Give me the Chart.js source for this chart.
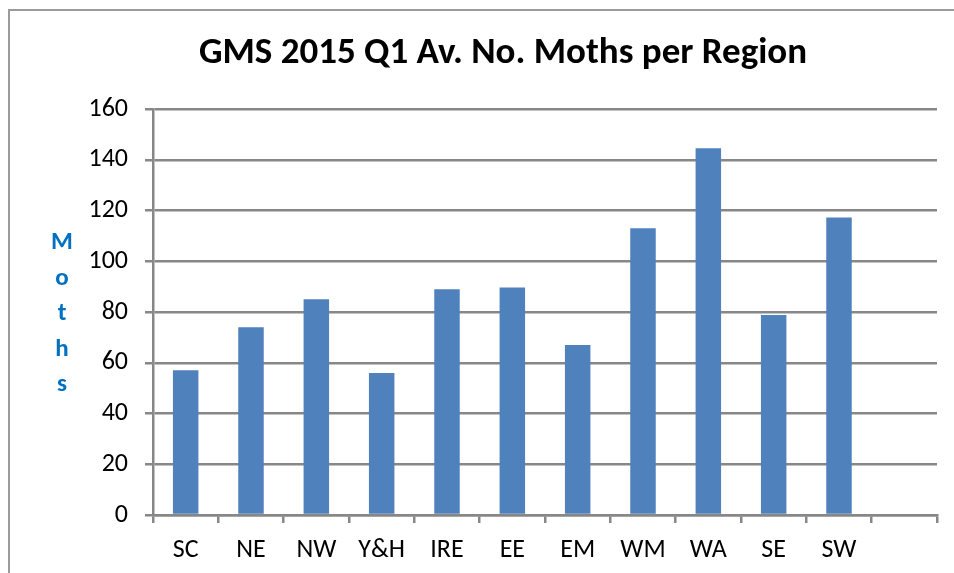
<!DOCTYPE html>
<html>
<head>
<meta charset="utf-8">
<script src="https://cdn.jsdelivr.net/npm/chart.js@4.4.1/dist/chart.umd.min.js"></script>
<style>
  html, body { margin: 0; padding: 0; background: #fff; }
  #wrap { position: relative; width: 954px; height: 573px; }
</style>
</head>
<body>
<div id="wrap"><canvas id="mothChart" width="954" height="573"></canvas></div>
<script>
const regions = ["SC", "NE", "NW", "Y&H", "IRE", "EE", "EM", "WM", "WA", "SE", "SW", ""];
const avgMoths = [57, 74, 85, 56, 89, 89.7, 67, 113, 144.5, 78.8, 117.2, null];
const yTicks = [0, 20, 40, 60, 80, 100, 120, 140, 160];
const yTitleLetters = ["M", "o", "t", "h", "s"];
const chartTitle = "GMS 2015 Q1 Av. No. Moths per Region";

const fontStack = "Carlito, 'Liberation Sans Narrow', 'Liberation Sans', Arial, sans-serif";
const axisGrey = "#878787";

// Chart frame (top and left edges only, the rest is cut off)
const framePlugin = {
  id: "frame",
  beforeDraw(chart) {
    const c = chart.ctx;
    c.save();
    c.strokeStyle = "#9b9b9b";
    c.lineWidth = 2;
    c.beginPath();
    c.moveTo(9, chart.height);
    c.lineTo(9, 10);
    c.lineTo(chart.width, 10);
    c.stroke();
    c.restore();
  },
};

// Title is centred on the whole Excel chart object, which is wider than the crop
const titlePlugin = {
  id: "excelTitle",
  afterDraw(chart) {
    const c = chart.ctx;
    c.save();
    c.fillStyle = "#000";
    c.font = "bold 37px " + fontStack;
    c.textAlign = "center";
    c.textBaseline = "middle";
    c.fillText(chartTitle, 503, 54);
    c.restore();
  },
};

// Stacked "Moths" axis title
const stackedTitle = {
  id: "stackedTitle",
  afterDraw(chart) {
    const c = chart.ctx;
    const area = chart.chartArea;
    const mid = (area.top + area.bottom) / 2;
    const step = 35.5;
    c.save();
    c.fillStyle = "#0070C0";
    c.font = "bold 25px " + fontStack;
    c.textAlign = "center";
    c.textBaseline = "middle";
    yTitleLetters.forEach((ch, i) => {
      c.fillText(ch, 62, mid + 2 + (i - 2) * step);
    });
    c.restore();
  },
};

new Chart(document.getElementById("mothChart"), {
  type: "bar",
  data: {
    labels: regions,
    datasets: [
      {
        label: "Moths",
        data: avgMoths,
        backgroundColor: "#4F81BD",
        barPercentage: 0.39,
        categoryPercentage: 1.0,
      },
    ],
  },
  options: {
    responsive: false,
    animation: false,
    layout: {
      padding: { top: 109, right: 17, bottom: 0, left: 0 },
    },
    plugins: {
      legend: { display: false },
      tooltip: { enabled: false },
      title: { display: false },
    },
    scales: {
      x: {
        offset: true,
        grid: {
          offset: true,
          drawOnChartArea: false,
          color: axisGrey,
          lineWidth: 2.5,
          tickLength: 8,
        },
        border: { color: axisGrey, width: 2.5 },
        ticks: {
          color: "#000",
          padding: 12,
          maxRotation: 0,
          autoSkip: false,
          font: { family: fontStack, size: 26 },
        },
        afterFit(scale) {
          scale.height = 573 - 515;
        },
      },
      y: {
        min: 0,
        max: 160,
        afterBuildTicks(scale) {
          scale.ticks = yTicks.map((v) => ({ value: v }));
        },
        grid: {
          color: axisGrey,
          lineWidth: 2.5,
          tickLength: 8,
        },
        border: { color: axisGrey, width: 2.5 },
        ticks: {
          color: "#000",
          padding: 17,
          font: { family: fontStack, size: 26 },
        },
        afterFit(scale) {
          scale.width = 153;
        },
      },
    },
  },
  plugins: [framePlugin, titlePlugin, stackedTitle],
});
</script>
</body>
</html>
